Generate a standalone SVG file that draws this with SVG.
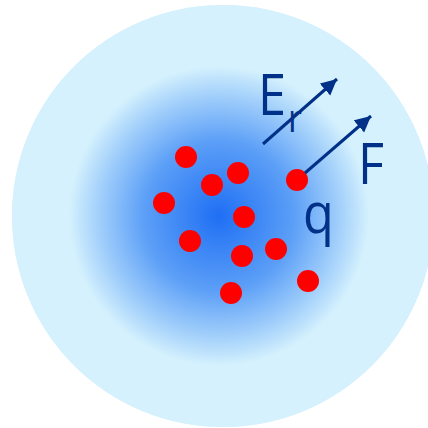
<svg xmlns="http://www.w3.org/2000/svg" width="428" height="428" viewBox="0 0 428 428">
<defs>
<radialGradient id="glow" gradientUnits="userSpaceOnUse" cx="219" cy="216" r="150">
<stop offset="0" stop-color="#1f6ff4"/>
<stop offset="0.5" stop-color="#5c9ff7"/>
<stop offset="0.82" stop-color="#a6d2fb"/>
<stop offset="1" stop-color="#d5f1fd"/>
</radialGradient>
<marker id="ah" markerUnits="userSpaceOnUse" markerWidth="20" markerHeight="20" refX="16" refY="8" orient="auto">
<path d="M0,0 L16,8 L0,16 Z" fill="#003087"/>
</marker>
<style>
.dot{fill:#ff0000}
.arr{stroke:#003087;stroke-width:3;fill:none;marker-end:url(#ah)}
.lbl{font-family:"Open Sans","Liberation Sans",sans-serif;fill:#003087}
</style>
</defs>
<g id="sphere">
<circle cx="223" cy="216" r="211" fill="#d5f1fd"/>
<circle cx="223" cy="216" r="211" fill="url(#glow)"/>
</g>
<g id="charges">
<circle class="dot" cx="186" cy="157" r="11"/>
<circle class="dot" cx="238" cy="173" r="11"/>
<circle class="dot" cx="212" cy="185" r="11"/>
<circle class="dot" cx="164" cy="203" r="11"/>
<circle class="dot" cx="244" cy="217" r="11"/>
<circle class="dot" cx="190" cy="241" r="11"/>
<circle class="dot" cx="242" cy="256" r="11"/>
<circle class="dot" cx="276" cy="249" r="11"/>
<circle class="dot" cx="308" cy="281" r="11"/>
<circle class="dot" cx="231" cy="293" r="11"/>
</g>
<g id="q">
<circle class="dot" cx="297" cy="180" r="11"/>
<text class="lbl" font-size="56" transform="translate(303,233) scale(0.9,1)">q</text>
</g>
<g id="connectors">
<line class="arr" x1="263" y1="144" x2="337" y2="79"/>
<line class="arr" x1="305" y1="173" x2="371" y2="116"/>
</g>
<g id="labels">
<text class="lbl" font-size="56" transform="translate(258,115) scale(0.9,1)">E</text>
<text class="lbl" font-size="38" transform="translate(288,132) scale(0.9,1)">r</text>
<text class="lbl" font-size="56" transform="translate(358,184) scale(0.9,1)">F</text>
</g>
</svg>
